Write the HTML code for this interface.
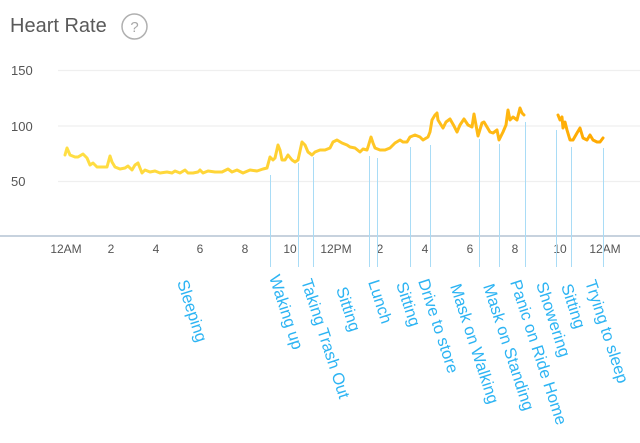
<!DOCTYPE html>
<html><head><meta charset="utf-8">
<style>
html,body{margin:0;padding:0;background:#fff;}
svg{display:block;}
text{font-family:"Liberation Sans",Arial,sans-serif;}
</style></head>
<body>
<svg width="640" height="443" viewBox="0 0 640 443" xmlns="http://www.w3.org/2000/svg">
<defs>
<linearGradient id="hr" gradientUnits="userSpaceOnUse" x1="65" y1="0" x2="605" y2="0">
<stop offset="0" stop-color="#ffdf45"/>
<stop offset="0.45" stop-color="#ffcf30"/>
<stop offset="1" stop-color="#ffa900"/>
</linearGradient>
</defs>
<text x="10" y="32" font-size="20" fill="#5a5a5a">Heart Rate</text>
<circle cx="134.5" cy="26.5" r="12.5" fill="none" stroke="#b0b0b0" stroke-width="1.5"/>
<text x="134.5" y="32" font-size="15" fill="#a8a8a8" text-anchor="middle">?</text>

<g stroke="#efefef" stroke-width="1.2">
<line x1="58" y1="70.5" x2="640" y2="70.5"/>
<line x1="58" y1="126" x2="640" y2="126"/>
<line x1="58" y1="181.5" x2="640" y2="181.5"/>
</g>
<g font-size="13" fill="#555">
<text x="11" y="75">150</text>
<text x="11" y="131">100</text>
<text x="11" y="186">50</text>
</g>
<line x1="0" y1="236" x2="640" y2="236" stroke="#c7d2de" stroke-width="2"/>
<g font-size="12" fill="#555" text-anchor="middle">
<text x="66" y="253">12AM</text>
<text x="111" y="253">2</text>
<text x="156" y="253">4</text>
<text x="200" y="253">6</text>
<text x="245" y="253">8</text>
<text x="290" y="253">10</text>
<text x="336" y="253">12PM</text>
<text x="380" y="253">2</text>
<text x="425" y="253">4</text>
<text x="470" y="253">6</text>
<text x="515" y="253">8</text>
<text x="560" y="253">10</text>
<text x="605" y="253">12AM</text>
</g>

<g stroke="#a9dcf6" stroke-width="1">
<line x1="270.5" y1="175" x2="270.5" y2="267"/>
<line x1="298.5" y1="163" x2="298.5" y2="267"/>
<line x1="313.5" y1="157" x2="313.5" y2="267"/>
<line x1="369.5" y1="156" x2="369.5" y2="267"/>
<line x1="377.5" y1="158" x2="377.5" y2="267"/>
<line x1="410.5" y1="147" x2="410.5" y2="267"/>
<line x1="430.5" y1="145" x2="430.5" y2="267"/>
<line x1="479.5" y1="139" x2="479.5" y2="267"/>
<line x1="499.5" y1="144" x2="499.5" y2="267"/>
<line x1="525.5" y1="122" x2="525.5" y2="267"/>
<line x1="556.5" y1="130" x2="556.5" y2="267"/>
<line x1="571.5" y1="147" x2="571.5" y2="267"/>
<line x1="603.5" y1="148" x2="603.5" y2="267"/>
</g>

<g fill="none" stroke="url(#hr)" stroke-width="3" stroke-linejoin="round" stroke-linecap="round">
<polyline points="65,155 67,148 70,155 75,157 78,157 83,154 87,158 90,165 93,163 97,167 102,167 107,167 110,156 112,162 115,167 120,169 125,168 128,166 132,170 135,165 138,163 142,173 145,170 150,172 155,171 160,173 167,172 172,173 175,171 180,173 185,170 188,173 193,173 198,172 200,170 203,173 208,171 215,172 222,172 228,169 232,172 237,170 243,173 250,170 257,171 263,169 267,168 270,157 273,160 275,158 278,145 280,150 282,160 285,160 288,155 292,160 295,162 298,160 302,142 305,145 308,152 312,155 315,152 320,150 325,150 330,148 333,142 337,140 342,143 347,145 350,147 355,148 360,152 363,149 367,150 368,147 371,137 373,143 375,148 380,150 385,150 390,148 395,143 400,140 403,142 407,142 410,137 415,135 420,137 423,140 428,137 430,132 432,120 435,115 437,113 438,120 443,128 446,122 450,119 454,126 457,132 460,125 464,119 468,125 472,127 474,114 476,125 478,136 482,123 484,122 487,127 490,132 493,133 497,130 499,140 503,132 506,125 508,110 510,120 513,117 517,120 520,108 522,113 524,115"/>
<polyline points="558,115 560,120 562,117 563,128 565,122 567,130 570,140 573,140 577,133 580,128 583,138 587,140 590,135 593,140 597,142 600,142 603,138"/>
</g>

<g font-size="16.5" fill="#2db4f3">
<text transform="translate(177,282) rotate(72)">Sleeping</text>
<text transform="translate(269,277) rotate(72)">Waking up</text>
<text transform="translate(301,281) rotate(72)">Taking Trash Out</text>
<text transform="translate(336,289) rotate(72)">Sitting</text>
<text transform="translate(368,282) rotate(72)">Lunch</text>
<text transform="translate(396,284) rotate(72)">Sitting</text>
<text transform="translate(418,281) rotate(72)">Drive to store</text>
<text transform="translate(450,286) rotate(72)">Mask on Walking</text>
<text transform="translate(483,286) rotate(72)">Mask on Standing</text>
<text transform="translate(510,282) rotate(72)">Panic on Ride Home</text>
<text transform="translate(536,284) rotate(72)">Showering</text>
<text transform="translate(561,286) rotate(72)">Sitting</text>
<text transform="translate(585,282) rotate(72)">Trying to sleep</text>
</g>
</svg>
</body></html>
